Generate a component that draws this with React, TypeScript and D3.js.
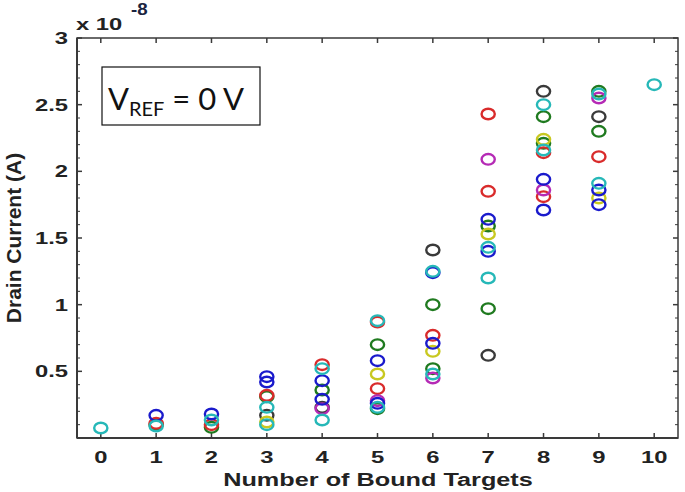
import React from "react";
import * as d3 from "d3";

// number of bound targets vs drain current (x 1e-8 A), one array per marker colour
const cyanPts = [[0, 0.075], [1, 0.09], [2, 0.135], [3, 0.23], [3, 0.1], [4, 0.52], [4, 0.135], [5, 0.23], [6, 1.25], [6, 0.48], [7, 1.43], [7, 1.2], [8, 2.5], [8, 2.16], [9, 2.58], [9, 1.91], [10, 2.65]];
const bluePts = [[1, 0.17], [2, 0.18], [3, 0.46], [3, 0.42], [4, 0.43], [4, 0.29], [5, 0.58], [5, 0.26], [6, 1.24], [6, 0.71], [7, 1.64], [7, 1.4], [8, 1.94], [8, 1.71], [9, 1.86], [9, 1.75]];
const redPts = [[1, 0.11], [2, 0.1], [3, 0.32], [4, 0.55], [5, 0.87], [5, 0.37], [6, 0.77], [7, 2.43], [7, 1.85], [8, 2.14], [8, 1.81], [9, 2.11]];
const greenPts = [[1, 0.1], [2, 0.08], [3, 0.31], [4, 0.36], [5, 0.7], [5, 0.22], [6, 1.0], [6, 0.52], [7, 1.59], [7, 0.97], [8, 2.41], [8, 2.21], [9, 2.6], [9, 2.3]];
const blackPts = [[3, 0.17], [4, 0.23], [6, 1.41], [7, 0.62], [8, 2.6], [9, 2.41]];
const magentaPts = [[4, 0.22], [5, 0.28], [6, 0.45], [7, 2.09], [8, 1.86], [9, 2.55]];
const yellowPts = [[3, 0.12], [5, 0.48], [6, 0.65], [7, 1.53], [8, 2.24], [9, 1.8]];
const cyanTop = [[5, 0.88]];

const xTicks = [0, 1, 2, 3, 4, 5, 6, 7, 8, 9, 10];
const yTicks = [0.5, 1, 1.5, 2, 2.5, 3];

const series = [
  { pts: greenPts, color: "#1f7a1f" },
  { pts: blackPts, color: "#3a3a3a" },
  { pts: yellowPts, color: "#c8c820" },
  { pts: redPts, color: "#d92b2b" },
  { pts: magentaPts, color: "#b52ab5" },
  { pts: bluePts, color: "#1a1acc" },
  { pts: cyanPts, color: "#26b8b8" },
  { pts: cyanTop, color: "#26b8b8" },
];

const font = "'Liberation Sans', Arial, sans-serif";

// the source picture is stretched sideways, so the text is too
function Wide({ x, y, anchor = "start", size, sx = 1.4, fill = "#222", children }: any) {
  return (
    <text transform={`translate(${x},${y}) scale(${sx},1)`} textAnchor={anchor} fontFamily={font}
      fontWeight="bold" fontSize={size} fill={fill}>{children}</text>
  );
}

export default function App() {
  const W = 685, H = 492;
  const left = 77, right = 678, top = 38, bottom = 438;
  const x = d3.scaleLinear().domain([-0.43, 10.43]).range([left, right]);
  const y = d3.scaleLinear().domain([0, 3]).range([bottom, top]);
  const minor = d3.range(1, 30).map(i => i / 10).filter(v => Math.abs(v * 2 - Math.round(v * 2)) > 1e-6);
  const axisColor = "#3a3a3a";

  return (
    <svg width={W} height={H} style={{ position: "absolute", left: 0, top: 0, background: "#fff" }}>
      {/* frame */}
      <rect x={left} y={top} width={right - left} height={bottom - top} fill="none" stroke={axisColor} strokeWidth={1.5} />
      <line x1={left} x2={left} y1={top} y2={bottom} stroke={axisColor} strokeWidth={2} />
      <line x1={left} x2={right} y1={bottom} y2={bottom} stroke={axisColor} strokeWidth={2} />

      {/* y ticks */}
      {yTicks.map(t => (
        <g key={"y" + t}>
          <line x1={left} x2={left + 5} y1={y(t)} y2={y(t)} stroke={axisColor} strokeWidth={1.5} />
          <line x1={right} x2={right - 5} y1={y(t)} y2={y(t)} stroke={axisColor} strokeWidth={1.5} />
          <Wide x={left - 9} y={y(t) + 6} anchor="end" size={17}>{t}</Wide>
        </g>
      ))}
      {minor.map(t => (
        <g key={"m" + t}>
          <line x1={left} x2={left + 3} y1={y(t)} y2={y(t)} stroke={axisColor} strokeWidth={1} />
          <line x1={right} x2={right - 3} y1={y(t)} y2={y(t)} stroke={axisColor} strokeWidth={1} />
        </g>
      ))}

      {/* x ticks */}
      {xTicks.map(t => (
        <g key={"x" + t}>
          <line x1={x(t)} x2={x(t)} y1={bottom} y2={bottom - 5} stroke={axisColor} strokeWidth={1.5} />
          <line x1={x(t)} x2={x(t)} y1={top} y2={top + 5} stroke={axisColor} strokeWidth={1.5} />
          <Wide x={x(t)} y={bottom + 25} anchor="middle" size={17}>{t}</Wide>
        </g>
      ))}

      {/* exponent */}
      <Wide x={76} y={30} size={17}>x 10</Wide>
      <Wide x={131} y={15} size={17} sx={1.1} fill="#1a2440">-8</Wide>

      {/* axis titles */}
      <Wide x={378} y={486} anchor="middle" size={19} sx={1.33}>Number of Bound Targets</Wide>
      <text transform={`translate(21,238) rotate(-90)`} textAnchor="middle" fontFamily={font} fontWeight="bold" fontSize={21} fill="#222">Drain Current (A)</text>

      {/* inset label */}
      <rect x={102} y={67} width={158} height={58} fill="#fff" stroke="#111" strokeWidth={1.2} />
      <text x={108} y={110} fontFamily="Lato, 'Open Sans', sans-serif" fontSize={31} fill="#111">
        V<tspan fontSize={20} dy={6}>REF</tspan><tspan dy={-6}> = 0 V</tspan>
      </text>

      {/* markers */}
      {series.map((s, i) => (
        <g key={i}>
          {s.pts.map((p, j) => (
            <ellipse key={j} cx={x(p[0])} cy={y(p[1])} rx={6.6} ry={5.3} fill="none" stroke={s.color} strokeWidth={2.4} />
          ))}
        </g>
      ))}
    </svg>
  );
}
